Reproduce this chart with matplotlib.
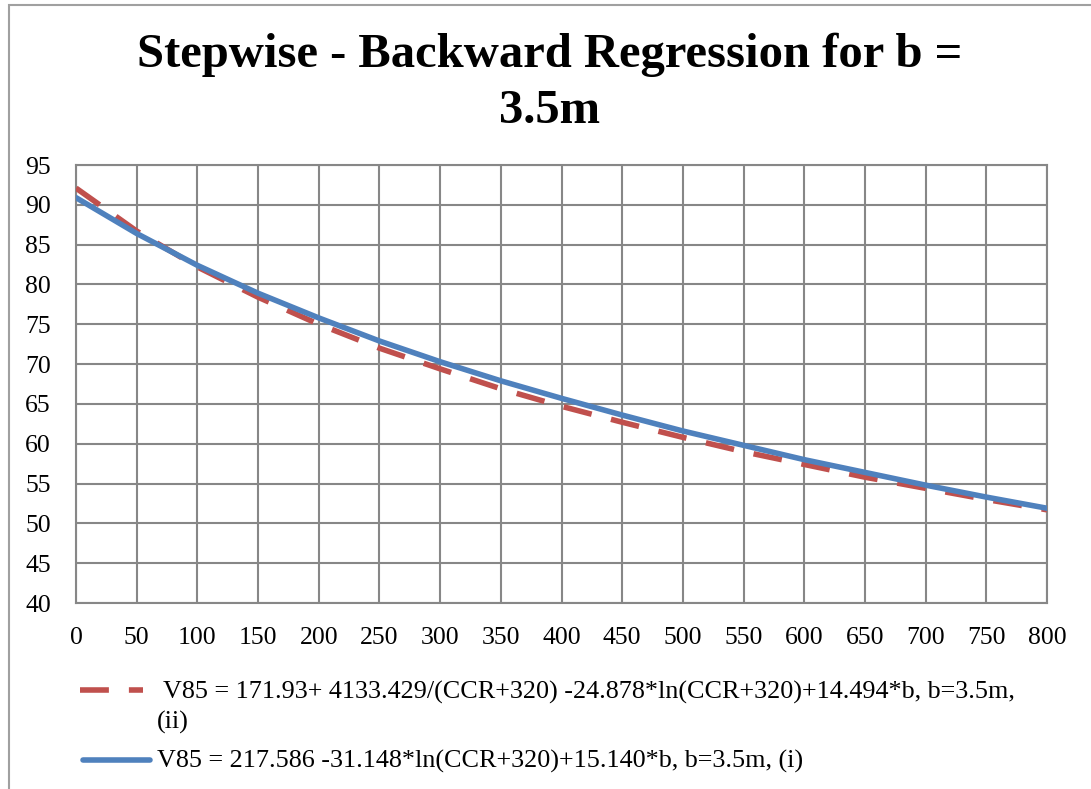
import matplotlib.pyplot as plt
from matplotlib.lines import Line2D
from matplotlib.patches import Rectangle

# CCR values and V85 for b = 3.5m
ccr = [0, 50, 100, 150, 200, 250, 300, 350, 400, 450, 500, 550, 600, 650, 700, 750, 800]
v85_ii = [92.1, 86.7, 82.2, 78.4, 75.0, 72.0, 69.4, 66.9, 64.7, 62.7, 60.8, 59.0, 57.4, 55.8, 54.4, 53.0, 51.7]
v85_i = [90.9, 86.4, 82.4, 78.9, 75.8, 72.9, 70.3, 67.9, 65.7, 63.6, 61.6, 59.8, 58.0, 56.4, 54.8, 53.3, 51.9]

titulo = "Stepwise - Backward Regression for b =\n3.5m"
rotulo_ii = " V85 = 171.93+ 4133.429/(CCR+320) -24.878*ln(CCR+320)+14.494*b, b=3.5m,"
rotulo_ii_cont = "(ii)"
rotulo_i = "V85 = 217.586 -31.148*ln(CCR+320)+15.140*b, b=3.5m, (i)"

vermelho = "#C0504D"
azul = "#4F81BD"
cinza = "#878787"
tracos = (5.2, 3.6)

plt.rcParams["font.family"] = ["Liberation Serif", "DejaVu Serif"]

W, H = 1091, 789
fig = plt.figure(figsize=(W / 100, H / 100), dpi=100)

# moldura do gráfico
fig.add_artist(Rectangle((9 / W, -0.05), 1.2, 1 - 5 / H + 0.05, transform=fig.transFigure,
                         fill=False, edgecolor="#a0a0a0", linewidth=1.5))

ax = fig.add_axes([76 / W, 1 - 603 / H, (1047 - 76) / W, (603 - 165) / H])

ax.plot(ccr, v85_ii, color=vermelho, linewidth=4, dashes=tracos, zorder=3)
ax.plot(ccr, v85_i, color=azul, linewidth=4, solid_capstyle="round", zorder=4)

ax.set_xlim(0, 800)
ax.set_ylim(40, 95)
ax.set_xticks(range(0, 801, 50))
ax.set_yticks(range(40, 96, 5))
ax.grid(True, color=cinza, linewidth=1.5)
ax.set_axisbelow(True)
for lado in ax.spines.values():
    lado.set_color(cinza)
    lado.set_linewidth(1.5)
ax.tick_params(length=0, labelsize=18.5)
ax.tick_params(axis="x", pad=17)
ax.tick_params(axis="y", pad=18)

fig.text(0.5 * (W + 9) / W, 1 - 83 / H, titulo, ha="center", va="center",
         fontsize=35, fontweight="bold", linespacing=1.35)

# legenda desenhada à mão
def px(x, y):
    return x / W, 1 - y / H

x0, y0 = px(80, 690)
x1, _ = px(143, 690)
fig.add_artist(Line2D([x0, x1], [y0, y0], transform=fig.transFigure, color=vermelho,
                      linewidth=4, dashes=tracos))
fig.text(*px(157, 692), rotulo_ii, va="center", fontsize=18.8)
fig.text(*px(157, 722), rotulo_ii_cont, va="center", fontsize=18.8)

x0, y0 = px(83, 760)
x1, _ = px(150, 760)
fig.add_artist(Line2D([x0, x1], [y0, y0], transform=fig.transFigure, color=azul,
                      linewidth=4, solid_capstyle="round"))
fig.text(*px(157, 761), rotulo_i, va="center", fontsize=18.8)

fig.savefig("out.png", dpi=100)
